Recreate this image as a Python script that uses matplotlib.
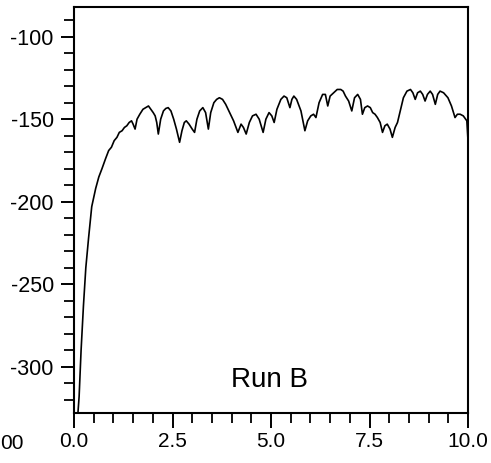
import matplotlib
matplotlib.use('Agg')
import matplotlib.pyplot as plt
from matplotlib.ticker import MultipleLocator, FormatStrFormatter

plt.rcParams['font.family'] = ['Liberation Sans', 'DejaVu Sans']
plt.rcParams['axes.unicode_minus'] = False

# curve (x, level)
x_vals = [0.10, 0.13, 0.18, 0.24, 0.30, 0.37, 0.45, 0.55, 0.63, 0.71,
          0.80, 0.88, 0.95, 1.02, 1.09, 1.15, 1.22, 1.28, 1.34, 1.40,
          1.46, 1.50, 1.55, 1.60, 1.67, 1.75, 1.82, 1.89, 1.95, 2.01,
          2.06, 2.10, 2.14, 2.20, 2.27, 2.33, 2.39, 2.46, 2.53, 2.60,
          2.68, 2.74, 2.80, 2.85, 2.92, 3.00, 3.06, 3.12, 3.19, 3.27,
          3.34, 3.41, 3.47, 3.55, 3.62, 3.69, 3.77, 3.85, 3.95, 4.05,
          4.16, 4.24, 4.30, 4.37, 4.45, 4.53, 4.62, 4.70, 4.80, 4.87,
          4.95, 5.02, 5.08, 5.15, 5.25, 5.33, 5.40, 5.48, 5.53, 5.58,
          5.65, 5.76, 5.86, 5.93, 6.01, 6.08, 6.14, 6.22, 6.31, 6.38,
          6.44, 6.50, 6.59, 6.68, 6.77, 6.83, 6.89, 6.97, 7.05, 7.12,
          7.20, 7.27, 7.32, 7.38, 7.45, 7.52, 7.58, 7.64, 7.70, 7.77,
          7.83, 7.89, 7.95, 8.02, 8.08, 8.15, 8.21, 8.28, 8.36, 8.45,
          8.54, 8.60, 8.66, 8.72, 8.79, 8.85, 8.91, 8.97, 9.04, 9.10,
          9.17, 9.23, 9.29, 9.38, 9.49, 9.58, 9.67, 9.73, 9.80, 9.88,
          9.97, 10.0]
y_vals = [-328, -318, -290, -263, -240, -222, -203, -192, -185, -180,
          -174, -169, -167, -163, -161, -158, -157, -155, -154, -152,
          -151, -153, -156, -150, -147, -144, -143, -142, -144, -146,
          -148, -152, -159, -150, -145, -143.5, -143, -145, -150, -156,
          -164, -157, -152, -151, -153, -156, -158, -150, -145, -143,
          -146, -156, -146, -140, -138, -137, -138, -141, -146, -151,
          -158, -153, -155, -159, -152, -148, -147, -150, -158, -150,
          -146, -148, -152, -144, -138, -136, -137, -143, -138, -136,
          -138, -145, -157, -151, -148, -147, -149, -140, -135, -135,
          -142, -136, -134, -132, -132, -133, -136, -139, -145, -137,
          -135, -138, -147, -143, -142, -143, -146, -147, -149, -152,
          -158, -154, -153, -156, -161, -155, -152, -145, -137, -133,
          -132, -134, -138, -134, -133, -135, -139, -135, -133, -135,
          -141, -135, -133, -134, -137, -142, -149, -147, -147, -148,
          -151, -163]

label_text = 'Run B'

fig = plt.figure(figsize=(4.91, 4.63), dpi=100)
ax = fig.add_axes([0.1507, 0.108, 0.8025, 0.877])

ax.plot(x_vals, y_vals, color='black', lw=1.2)

ax.set_xlim(0, 10)
ax.set_ylim(-328, -82)

ax.xaxis.set_major_locator(MultipleLocator(2.5))
ax.xaxis.set_minor_locator(MultipleLocator(0.5))
ax.xaxis.set_major_formatter(FormatStrFormatter('%.1f'))
ax.yaxis.set_major_locator(MultipleLocator(50))
ax.yaxis.set_minor_locator(MultipleLocator(10))

ax.tick_params(axis='y', which='major', direction='out', length=9.5, width=1.4)
ax.tick_params(axis='y', which='minor', direction='out', length=7, width=1.3)
ax.tick_params(axis='x', which='major', direction='out', length=11, width=1.4)
ax.tick_params(axis='x', which='minor', direction='out', length=7, width=1.3)
ax.tick_params(axis='x', which='major', labelsize=15, pad=3)
ax.tick_params(axis='y', which='major', labelsize=15.5, pad=5)

for s in ax.spines.values():
    s.set_linewidth(1.5)

ax.text(4.95, -308, label_text, fontsize=20, ha='center', va='center')

# cut-off tick label from the neighbouring panel
fig.text(0.049, 0.042, '00', fontsize=15, ha='right', va='center')

fig.savefig('out.png', dpi=100)
